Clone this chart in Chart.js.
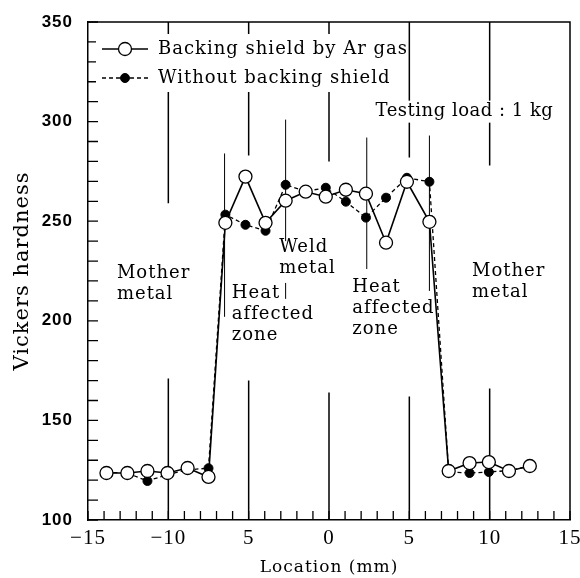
<!DOCTYPE html>
<html>
<head>
<meta charset="utf-8">
<script src="https://cdn.jsdelivr.net/npm/chart.js@4.4.1/dist/chart.umd.min.js"></script>
<style>
  html, body { margin: 0; padding: 0; background: #fff; }
</style>
</head>
<body>
<canvas id="hardness" width="580" height="578"></canvas>
<script>
// measuring positions across the weld (mm)
const locations = [-13.85, -12.55, -11.3, -10.05, -8.8, -7.5, -6.45, -5.2, -3.95, -2.7, -1.45, -0.2,
                   1.05, 2.3, 3.55, 4.85, 6.25, 7.45, 8.75, 9.95, 11.2, 12.5];
const withArGas = [123.6, 123.6, 124.6, 123.6, 126.1, 121.6, 249.2, 272.4, 249.2, 260.3, 264.8, 262.3,
                   265.8, 263.8, 239.2, 269.8, 249.7, 124.6, 128.6, 129.1, 124.6, 127.1];
const withoutShield = [124, 123.5, 119.6, 122.8, 125.2, 126, 253.3, 248.2, 245.2, 268.3, 265, 266.8,
                       259.8, 251.8, 261.8, 271.8, 269.8, 124.2, 123.6, 124.1, 124.8, 127];
const seriesNames = ['Backing shield by Ar gas', 'Without backing shield'];

const xTickValues = [-15, -10, -5, 0, 5, 10, 15];
const xTickLabels = ['\u221215', '\u221210', '5', '0', '5', '10', '15'];
const yTickValues = [100, 150, 200, 250, 300, 350];

// zone marker lines: [x, y from, y to]
const zoneLines = [
  [-10, 350, 259], [-10, 171, 100],
  [-5, 350, 283], [-5, 170, 100],
  [0, 350, 280], [0, 164, 100],
  [5, 350, 282], [5, 162, 100],
  [10, 350, 278], [10, 166, 100],
];
const boundaryLines = [
  [-6.5, 284, 202], [-2.7, 301, 240], [-2.7, 219, 211], [2.35, 292, 226], [6.25, 293, 215],
];

// text notes: first line anchored at (x, y) in data units
const notes = [
  { lines: ['Mother', 'metal'], x: -13.2, y: 224 },
  { lines: ['Heat', 'affected', 'zone'], x: -6.05, y: 214 },
  { lines: ['Weld', 'metal'], x: -3.1, y: 237 },
  { lines: ['Heat', 'affected', 'zone'], x: 1.45, y: 217 },
  { lines: ['Mother', 'metal'], x: 8.9, y: 224.6 },
  { lines: ['Testing load : 1 kg'], x: 2.9, y: 305, box: true },
];

const serif = 'DejaVu Serif';

const decorations = {
  id: 'decorations',
  beforeDraw(chart) {
    chart.ctx.letterSpacing = '1px';
  },
  beforeDatasetsDraw(chart) {
    const { ctx, chartArea: a, scales: { x, y } } = chart;
    ctx.save();
    ctx.strokeStyle = '#000';

    // top and right frame
    ctx.lineWidth = 1.5;
    ctx.beginPath();
    ctx.moveTo(a.left, a.top);
    ctx.lineTo(a.right, a.top);
    ctx.lineTo(a.right, a.bottom);
    ctx.stroke();

    // inward ticks
    ctx.lineWidth = 1.3;
    ctx.beginPath();
    y.ticks.forEach(t => {
      const py = y.getPixelForValue(t.value);
      ctx.moveTo(a.left, py);
      ctx.lineTo(a.left + 10, py);
    });
    x.ticks.forEach(t => {
      const px = x.getPixelForValue(t.value);
      ctx.moveTo(px, a.bottom);
      ctx.lineTo(px, a.bottom - 9);
    });
    ctx.stroke();

    // zone lines
    ctx.lineWidth = 1.5;
    ctx.beginPath();
    zoneLines.forEach(([lx, y0, y1]) => {
      ctx.moveTo(x.getPixelForValue(lx), y.getPixelForValue(y0));
      ctx.lineTo(x.getPixelForValue(lx), y.getPixelForValue(y1));
    });
    ctx.stroke();
    ctx.lineWidth = 1;
    ctx.beginPath();
    boundaryLines.forEach(([lx, y0, y1]) => {
      ctx.moveTo(x.getPixelForValue(lx), y.getPixelForValue(y0));
      ctx.lineTo(x.getPixelForValue(lx), y.getPixelForValue(y1));
    });
    ctx.stroke();

    // notes
    ctx.font = '18px "' + serif + '"';
    ctx.textBaseline = 'middle';
    ctx.textAlign = 'left';
    notes.forEach(n => {
      const px = x.getPixelForValue(n.x);
      const py = y.getPixelForValue(n.y);
      n.lines.forEach((s, i) => {
        if (n.box) {
          ctx.letterSpacing = '0.5px';
          ctx.fillStyle = '#fff';
          ctx.fillRect(px - 3, py + i * 21 - 11, ctx.measureText(s).width + 6, 22);
        }
        ctx.fillStyle = '#000';
        ctx.fillText(s, px, py + i * 21);
        ctx.letterSpacing = '1px';
      });
    });

    // legend inside the plot
    ctx.fillStyle = '#fff';
    ctx.fillRect(a.left + 8, a.top + 12, 308, 58);
    chart.data.datasets.forEach((ds, i) => {
      const ly = a.top + 27 + i * 29;
      ctx.strokeStyle = '#000';
      ctx.lineWidth = ds.borderWidth;
      ctx.setLineDash(ds.borderDash || []);
      ctx.beginPath();
      ctx.moveTo(a.left + 14, ly);
      ctx.lineTo(a.left + 60, ly);
      ctx.stroke();
      ctx.setLineDash([]);
      ctx.beginPath();
      ctx.arc(a.left + 37, ly, ds.pointRadius, 0, Math.PI * 2);
      ctx.fillStyle = ds.pointBackgroundColor;
      ctx.fill();
      ctx.lineWidth = ds.pointBorderWidth;
      ctx.stroke();
      ctx.fillStyle = '#000';
      ctx.fillText(ds.label, a.left + 70, ly);
    });
    ctx.restore();
  }
};

new Chart(document.getElementById('hardness'), {
  type: 'line',
  data: {
    datasets: [
      {
        label: seriesNames[0],
        data: locations.map((v, i) => ({ x: v, y: withArGas[i] })),
        borderColor: '#000',
        borderWidth: 1.6,
        pointRadius: 6.5,
        pointBorderWidth: 1.3,
        pointBackgroundColor: '#fff',
        pointBorderColor: '#000',
        tension: 0,
      },
      {
        label: seriesNames[1],
        data: locations.map((v, i) => ({ x: v, y: withoutShield[i] })),
        borderColor: '#000',
        borderWidth: 1.3,
        borderDash: [4, 3],
        pointRadius: 4.5,
        pointBorderWidth: 1,
        pointBackgroundColor: '#000',
        pointBorderColor: '#000',
        tension: 0,
      },
    ],
  },
  options: {
    responsive: false,
    animation: false,
    devicePixelRatio: 1,
    layout: { padding: { top: 22, right: 10, left: 0, bottom: 0 } },
    plugins: {
      legend: { display: false },
      tooltip: { enabled: false },
    },
    scales: {
      x: {
        type: 'linear',
        min: -15,
        max: 15,
        grid: { display: false },
        border: { color: '#000', width: 1.5 },
        ticks: {
          stepSize: 1,
          autoSkip: false,
          maxRotation: 0,
          padding: -2,
          color: '#000',
          font: { family: 'Liberation Serif', size: 21 },
          callback: v => {
            const k = xTickValues.indexOf(v);
            return k >= 0 ? xTickLabels[k] : '';
          },
        },
        title: {
          display: true,
          text: 'Location (mm)',
          color: '#000',
          font: { family: serif, size: 17 },
          padding: { top: 6, bottom: 0 },
        },
        afterFit: s => { s.height = 58; },
      },
      y: {
        min: 100,
        max: 350,
        grid: { display: false },
        border: { color: '#000', width: 1.5 },
        ticks: {
          stepSize: 10,
          autoSkip: false,
          padding: 7,
          color: '#000',
          font: { family: 'Liberation Sans', size: 17, weight: 'bold' },
          callback: v => (yTickValues.includes(v) ? String(v) : ''),
        },
        title: {
          display: true,
          text: 'Vickers hardness',
          color: '#000',
          font: { family: serif, size: 21 },
          padding: { top: 10, bottom: 0 },
        },
        afterFit: s => { s.width = 88; },
      },
    },
  },
  plugins: [decorations],
});
</script>
</body>
</html>
